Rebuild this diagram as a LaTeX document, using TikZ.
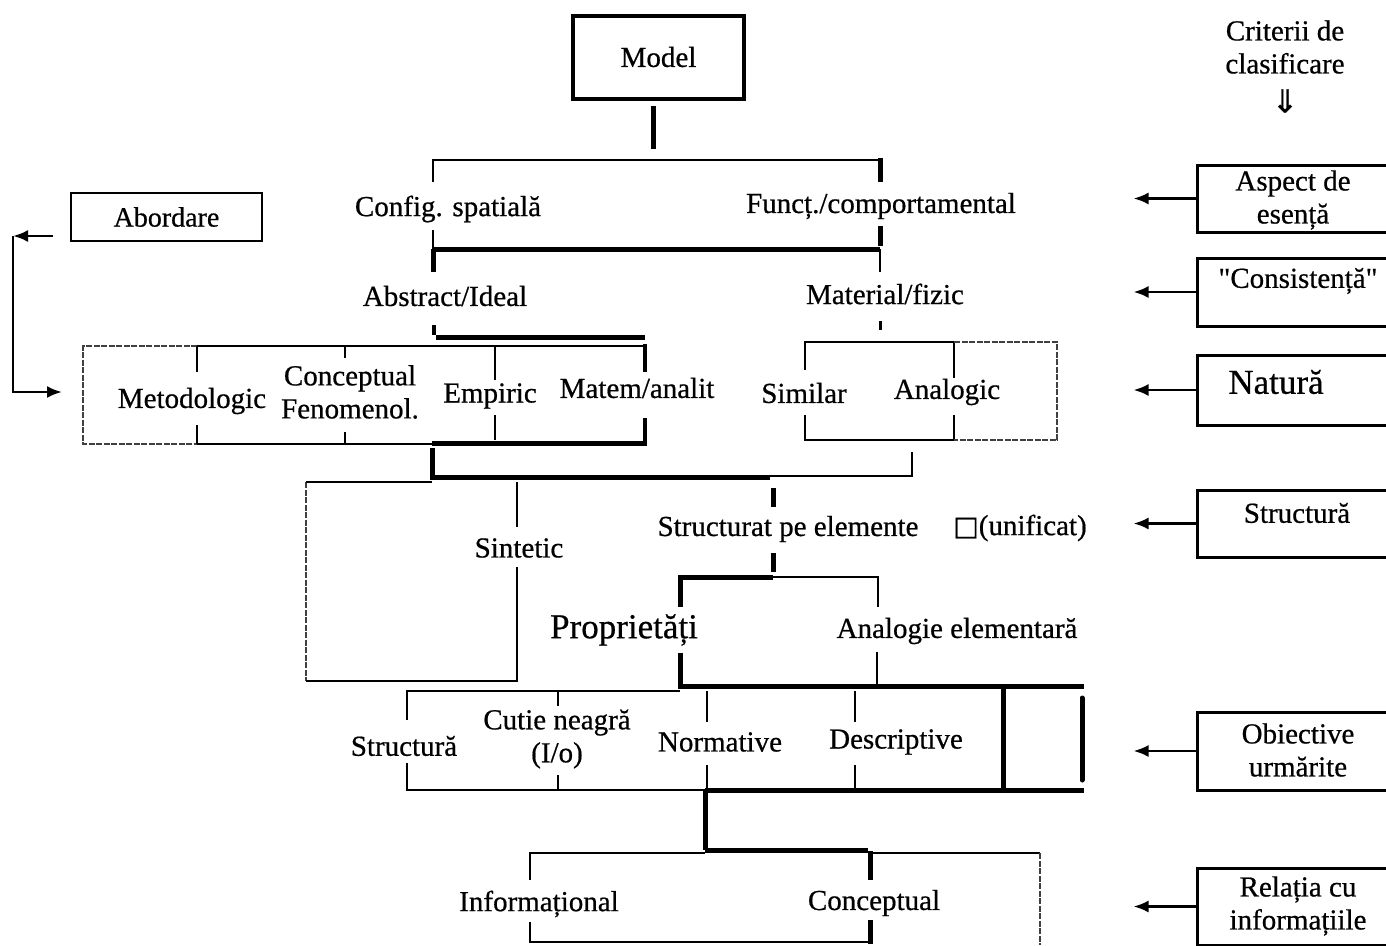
\documentclass[tikz,border=0pt]{standalone}
\usepackage{fontspec}
\setmainfont{Liberation Serif}[FakeBold=0.6]
\newfontfamily\symfont{DejaVu Sans}[FakeBold=0.6]
\usetikzlibrary{arrows.meta}

\begin{document}
\begin{tikzpicture}[x=1pt,y=-1pt,
  wire/.style={line width=2pt},
  heavy/.style={line width=5pt},
  faint/.style={line width=1.2pt, black!75, dash pattern=on 6pt off 1.5pt},
  lbl/.style={inner sep=0pt, align=center, font=\fontsize{29}{33}\selectfont},
  big/.style={inner sep=0pt, font=\fontsize{35}{38}\selectfont},
  critbox/.style={draw, line width=3pt, minimum width=194pt},
  back/.style={line width=2.5pt, -{Latex[length=15pt,width=12pt]}}
]
\clip (0,0) rectangle (1386,945);
\fill[white] (0,0) rectangle (1386,945);

% ---------- root ----------
\node[draw, line width=4pt, minimum width=171pt, minimum height=83pt,
      font=\fontsize{29}{33}\selectfont] (model) at (658.5,57) {Model};
\coordinate (stemtop) at (653,106);
\coordinate (stembot) at (653,149);
\draw[heavy] (stemtop) -- (stembot);

% ---------- level 1: spatial / functional ----------
\draw[wire] (433,182) -- (433,160) -- (880,160);
\draw[heavy] (880,158) -- (880,182);
\node[lbl] (config) at (448,209) {Config. spatială};
\node[lbl] (funct) at (881,206) {Funcț./comportamental};

\draw[wire] (433,230) -- (433,249);
\draw[heavy] (433,249) -- (880,249);
\draw[heavy] (433,249) -- (433,272);
\draw[heavy] (880,226) -- (880,246);
\draw[wire] (880,249) -- (880,272);

% ---------- level 2: abstract / material ----------
\node[lbl] (abstract) at (445,296) {Abstract/Ideal};
\node[lbl] (material) at (885,294) {Material/fizic};
\draw[line width=3.5pt] (434,325) -- (434,335);
\draw[line width=3pt] (880,321) -- (880,330);

% ---------- level 3: approach group ----------
\draw[faint] (197,346) -- (83,346) -- (83,444) -- (197,444);
\draw[wire] (197,346) -- (645,346);
\draw[heavy] (436,337) -- (645,337);
\draw[wire] (197,444) -- (436,444);
\draw[heavy] (432,443) -- (647,443);
\draw[wire] (197,346) -- (197,372) (197,425) -- (197,444);
\draw[wire] (345,346) -- (345,358) (345,432) -- (345,444);
\draw[wire] (495,346) -- (495,380) (495,415) -- (495,440);
\draw[line width=4pt] (645,344) -- (645,372) (645,418) -- (645,445);
\node[lbl] (metod) at (192,401) {Metodologic};
\node[lbl] (concept) at (350,392) {Conceptual\\Fenomenol.};
\node[lbl] (empiric) at (490,396) {Empiric};
\node[lbl] (matem) at (637,388) {Matem/analit};

% ---------- level 3: similar / analogic ----------
\draw[wire] (805,370) -- (805,342) -- (954,342) -- (954,378);
\draw[wire] (805,415) -- (805,440) -- (954,440) -- (954,415);
\draw[faint] (954,342) -- (1057,342) -- (1057,440) -- (954,440);
\node[lbl] (similar) at (804,393) {Similar};
\node[lbl] (analogic) at (947,392) {Analogic};

% ---------- join towards structure ----------
\draw[heavy] (432,448) -- (432,477);
\draw[heavy] (430,477) -- (770,477);
\draw[wire] (770,476) -- (912,476) -- (912,452);

% ---------- level 4: synthetic / structured ----------
\draw[faint] (306,482) -- (306,681);
\draw[wire] (306,482) -- (432,482);
\draw[wire] (306,681) -- (517,681) -- (517,567);
\draw[wire] (517,482) -- (517,527);
\node[lbl] (sintetic) at (519,548) {Sintetic};

\draw[heavy] (773,488) -- (773,507);
\draw[heavy] (773,553) -- (773,572);
\node[lbl] (structurat) at (788,529) {Structurat pe elemente};
\node[lbl] (unificat) at (1020,528) {{\symfont\fontsize{27}{30}\selectfont □}(unificat)};

\draw[heavy] (680,577) -- (773,577);
\draw[wire] (773,577) -- (878,577) -- (878,607);
\draw[heavy] (680,575) -- (680,607);
\node[big] (propr) at (624,630) {Proprietăți};
\node[lbl] (analogie) at (957,631) {Analogie elementară};
\draw[heavy] (680,653) -- (680,688);
\draw[wire] (877,652) -- (877,684);
\draw[heavy] (678,686) -- (1084,686);

% ---------- level 5: objectives ----------
\draw[wire] (407,720) -- (407,691) -- (680,691);
\draw[wire] (407,763) -- (407,790) -- (705,790);
\draw[heavy] (705,790) -- (1084,790);
\draw[wire] (558,691) -- (558,706) (558,775) -- (558,790);
\draw[wire] (707,691) -- (707,722) (707,765) -- (707,790);
\draw[wire] (855,691) -- (855,722) (855,765) -- (855,790);
\draw[heavy] (1003,686) -- (1003,790);
\draw[heavy, line cap=round] (1082,698) -- (1082,780);
\node[lbl] (structura) at (404,746) {Structură};
\node[lbl] (cutie) at (557,739) {Cutie neagră\\(I/o)};
\node[lbl] (normative) at (720,742) {Normative};
\node[lbl] (descriptive) at (896,742) {Descriptive};

% ---------- level 6: relation with information ----------
\draw[heavy] (705,790) -- (705,850);
\draw[heavy] (705,850) -- (868,850);
\draw[wire] (530,880) -- (530,853) -- (705,853);
\draw[wire] (868,853) -- (1040,853);
\draw[faint] (1040,853) -- (1040,945);
\draw[heavy] (870,851) -- (870,880);
\draw[wire] (530,922) -- (530,942) -- (870,942);
\draw[heavy] (870,920) -- (870,944);
\node[lbl] (inform) at (539,904) {Informațional};
\node[lbl] (concept2) at (874,903) {Conceptual};

% ---------- approach box with its return arrow ----------
\node[draw, line width=2pt, minimum width=191pt, minimum height=48pt,
      font=\fontsize{28}{30}\selectfont] (abord) at (166.5,217) {Abordare};
\coordinate (abA) at (53,236);
\coordinate (abB) at (13,236);
\coordinate (abC) at (13,392);
\coordinate (abD) at (62,392);
\draw[back] (abA) -- (abB);
\draw[back] (abB) -- (abC) -- (abD);

% ---------- classification criteria ----------
\node[lbl] (crit) at (1285,47) {Criterii de\\clasificare};
\node[inner sep=0pt, font=\symfont\fontsize{32}{34}\selectfont] (down) at (1285,101) {⇓};

\node[critbox, minimum height=67pt] (c1) at (1294,198.5) {};
\node[lbl] at (1293,200) {Aspect de\\esență};
\node[critbox, minimum height=68pt] (c2) at (1294,292) {};
\node[lbl] at (1298,281) {\textquotedbl Consistență\textquotedbl};
\node[critbox, minimum height=70pt] (c3) at (1294,390) {};
\node[big] at (1276,382) {Natură};
\node[critbox, minimum height=67pt] (c4) at (1294,523.5) {};
\node[lbl] at (1297,513) {Structură};
\node[critbox, minimum height=78pt] (c5) at (1294,751) {};
\node[lbl] at (1298,750) {Obiective\\urmărite};
\node[critbox, minimum height=77pt] (c6) at (1294,906.5) {};
\node[lbl] at (1298,906) {Relația cu\\informațiile};

\foreach \c in {c1,c2,c3,c4,c5,c6}
  \draw[back] (\c.west) -- ++(-62,0);
\end{tikzpicture}
\end{document}
